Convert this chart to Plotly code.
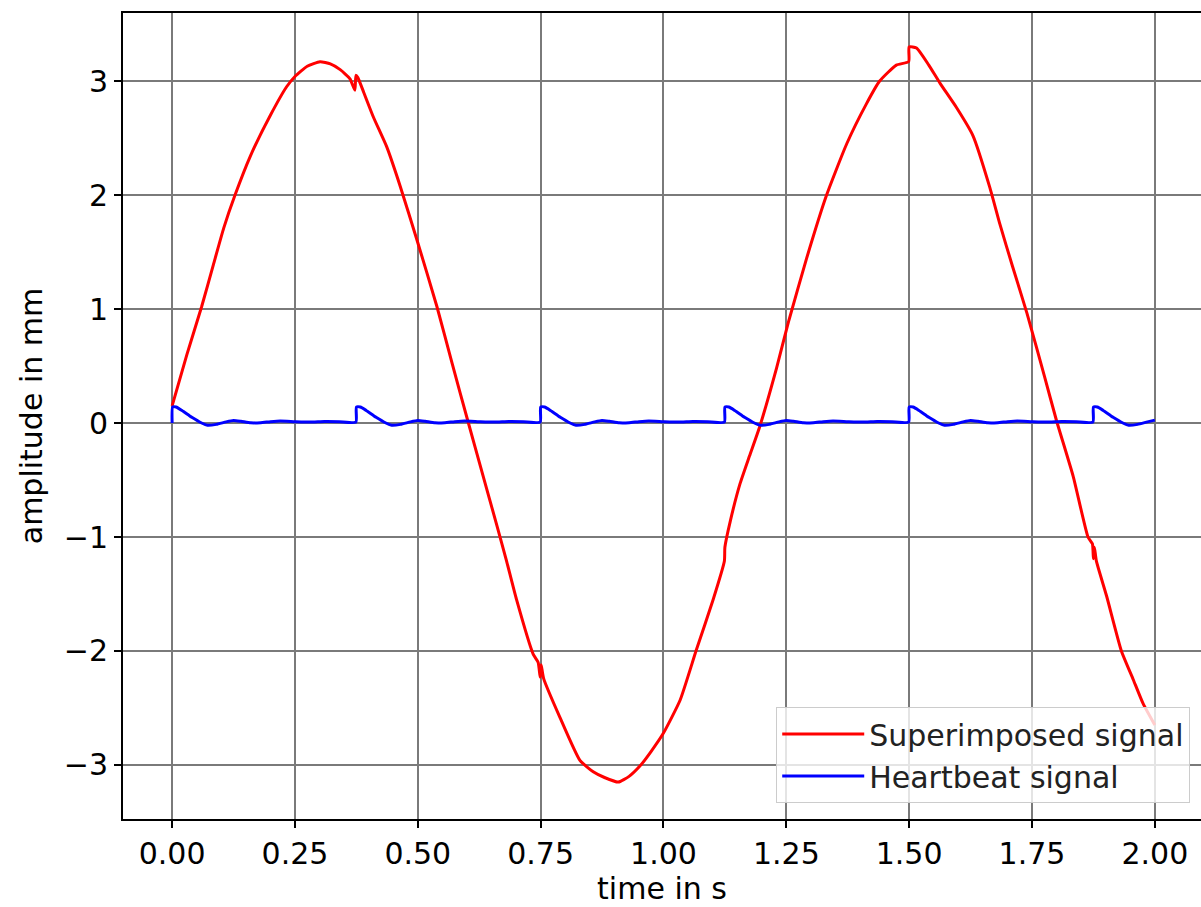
import plotly.graph_objects as go

# Superimposed signal
sup_t = [0.0, 0.03, 0.06, 0.084, 0.105, 0.128, 0.159, 0.2, 0.233, 0.25, 0.275, 0.301,
         0.322, 0.342, 0.362, 0.372, 0.374, 0.378, 0.39, 0.41, 0.437, 0.464, 0.498,
         0.539, 0.57, 0.603, 0.63, 0.661, 0.68, 0.701, 0.735, 0.745, 0.749, 0.751, 0.756, 0.789,
         0.83, 0.857, 0.88, 0.908, 0.93, 0.952, 0.975, 1.0, 1.034, 1.067, 1.101,
         1.124, 1.125, 1.136, 1.156, 1.175, 1.196, 1.23, 1.254, 1.291, 1.332, 1.373,
         1.413, 1.44, 1.474, 1.499, 1.5, 1.515, 1.54, 1.563, 1.596, 1.63, 1.664,
         1.685, 1.71, 1.74, 1.776, 1.8, 1.834, 1.864, 1.873, 1.875, 1.877, 1.881,
         1.902, 1.932, 1.956, 1.976, 2.0]
sup_y = [0.15, 0.6, 1.02, 1.39, 1.71, 2.0, 2.34, 2.70, 2.95, 3.04, 3.13, 3.17,
         3.15, 3.10, 3.02, 2.92, 3.05, 3.03, 2.90, 2.68, 2.42, 2.08, 1.61,
         1.02, 0.52, 0.0, -0.42, -0.9, -1.2, -1.55, -2.03, -2.10, -2.23, -2.12, -2.24, -2.58,
         -2.96, -3.06, -3.11, -3.15, -3.10, -3.01, -2.88, -2.72, -2.43, -1.99, -1.55,
         -1.21, -1.09, -0.86, -0.53, -0.29, -0.03, 0.48, 0.88, 1.44, 2.0, 2.45,
         2.80, 3.0, 3.14, 3.17, 3.30, 3.29, 3.14, 2.98, 2.77, 2.52, 2.07,
         1.74, 1.38, 0.96, 0.40, 0.02, -0.47, -1.0, -1.06, -1.19, -1.09, -1.21,
         -1.52, -2.0, -2.25, -2.46, -2.65]

# Heartbeat signal
hb_t = [0.0, 0.001, 0.008, 0.02, 0.04, 0.06, 0.072, 0.09, 0.11, 0.125, 0.14, 0.16, 0.18, 0.2, 0.22, 0.25, 0.28, 0.31, 0.34, 0.374,
        0.375, 0.383, 0.395, 0.415, 0.435, 0.447, 0.465, 0.485, 0.5, 0.515, 0.535, 0.555, 0.575, 0.595, 0.625, 0.655, 0.685, 0.715, 0.749,
        0.75, 0.758, 0.77, 0.79, 0.81, 0.822, 0.84, 0.86, 0.875, 0.89, 0.91, 0.93, 0.95, 0.97, 1.0, 1.03, 1.06, 1.09, 1.124,
        1.125, 1.133, 1.145, 1.165, 1.185, 1.197, 1.215, 1.235, 1.25, 1.265, 1.285, 1.305, 1.325, 1.345, 1.375, 1.405, 1.435, 1.465, 1.499,
        1.5, 1.508, 1.52, 1.54, 1.56, 1.572, 1.59, 1.61, 1.625, 1.64, 1.66, 1.68, 1.7, 1.72, 1.75, 1.78, 1.81, 1.84, 1.874,
        1.875, 1.883, 1.895, 1.915, 1.935, 1.947, 1.965, 1.985, 2.0]
hb_y = [0.0, 0.14, 0.14, 0.11, 0.05, 0.0, -0.02, -0.012, 0.01, 0.022, 0.015, 0.002, 0.003, 0.012, 0.018, 0.012, 0.008, 0.013, 0.012, 0.008,
        0.14, 0.14, 0.11, 0.05, 0.0, -0.02, -0.012, 0.01, 0.022, 0.015, 0.002, 0.003, 0.012, 0.018, 0.012, 0.008, 0.013, 0.012, 0.008,
        0.14, 0.14, 0.11, 0.05, 0.0, -0.02, -0.012, 0.01, 0.022, 0.015, 0.002, 0.003, 0.012, 0.018, 0.012, 0.008, 0.013, 0.012, 0.008,
        0.14, 0.14, 0.11, 0.05, 0.0, -0.02, -0.012, 0.01, 0.022, 0.015, 0.002, 0.003, 0.012, 0.018, 0.012, 0.008, 0.013, 0.012, 0.008,
        0.14, 0.14, 0.11, 0.05, 0.0, -0.02, -0.012, 0.01, 0.022, 0.015, 0.002, 0.003, 0.012, 0.018, 0.012, 0.008, 0.013, 0.012, 0.008,
        0.14, 0.14, 0.11, 0.05, 0.0, -0.02, -0.012, 0.01, 0.025]

x_ticks = [0.0, 0.25, 0.5, 0.75, 1.0, 1.25, 1.5, 1.75, 2.0]
y_ticks = [-3, -2, -1, 0, 1, 2, 3]

FONT = "DejaVu Sans"
FS = 30

fig = go.Figure()
fig.add_trace(go.Scatter(x=sup_t, y=sup_y, mode="lines", name="Superimposed signal",
                         line=dict(color="#ff0000", width=3, shape="spline", smoothing=0.5)))
fig.add_trace(go.Scatter(x=hb_t, y=hb_y, mode="lines", name="Heartbeat signal",
                         line=dict(color="#0000ff", width=3, shape="spline", smoothing=0.5)))

fig.update_layout(
    width=1201, height=907,
    margin=dict(l=123, r=0, t=13, b=88, autoexpand=False),
    paper_bgcolor="white", plot_bgcolor="white",
    font=dict(family=FONT, size=FS, color="black"),
    showlegend=True,
    legend=dict(x=0.99, y=0.02, xanchor="right", yanchor="bottom",
                bgcolor="rgba(255,255,255,0.8)", bordercolor="#cccccc", borderwidth=1,
                font=dict(family=FONT, size=FS, color="#222222"),
                itemwidth=82, tracegroupgap=0),
    xaxis=dict(range=[-0.1, 2.094], tickvals=x_ticks, tickformat=".2f",
               automargin=False,
               showgrid=True, gridcolor="#7a7a7a", gridwidth=2,
               showline=True, linecolor="black", linewidth=2, mirror=True,
               ticks="outside", ticklen=7, tickwidth=2, tickcolor="black",
               zeroline=False,
               title=dict(text="time in s", font=dict(family=FONT, size=FS), standoff=6)),
    yaxis=dict(range=[-3.474, 3.597], tickvals=y_ticks,
               automargin=False,
               showgrid=True, gridcolor="#7a7a7a", gridwidth=2,
               showline=True, linecolor="black", linewidth=2, mirror=False,
               ticks="outside", ticklen=7, tickwidth=2, tickcolor="black",
               zeroline=False,
               title=dict(text="amplitude in mm", font=dict(family=FONT, size=FS), standoff=12)),
)

fig.write_html("out.html", config={"displayModeBar": False})

# remove the default page margin so the figure sits at the window's top-left corner
with open("out.html", "r", encoding="utf-8") as f:
    html = f.read()
html = html.replace("<head>", "<head><style>html,body{margin:0;padding:0;overflow:hidden;}</style>", 1)
with open("out.html", "w", encoding="utf-8") as f:
    f.write(html)
